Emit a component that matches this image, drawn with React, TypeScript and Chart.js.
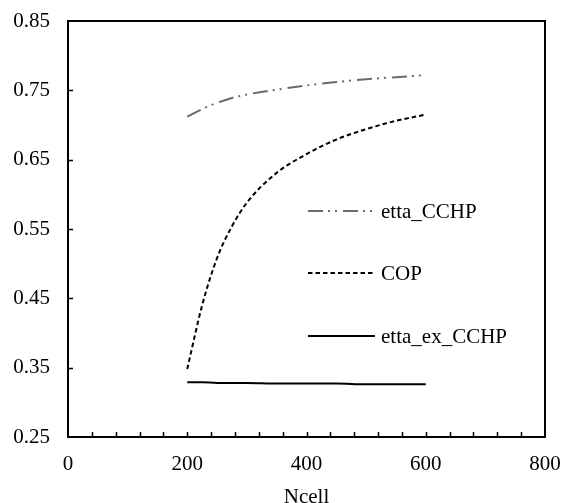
import React, { useEffect, useRef } from "react";
import { Chart, registerables } from "chart.js";

Chart.register(...registerables);

const ncell = [200, 225, 250, 275, 300, 350, 400, 450, 500, 550, 600];
const ettaCCHP = [0.712, 0.723, 0.732, 0.739, 0.744, 0.751, 0.757, 0.762, 0.766, 0.769, 0.772];
const cop = [0.348, 0.44, 0.508, 0.554, 0.588, 0.631, 0.658, 0.679, 0.694, 0.706, 0.715];
const ettaExCCHP = [0.329, 0.329, 0.328, 0.328, 0.328, 0.327, 0.327, 0.327, 0.326, 0.326, 0.326];

const seriesNames = ["etta_CCHP", "COP", "etta_ex_CCHP"];
const xMin = 0, xMax = 800, xMinorStep = 40, xLabelStep = 200;
const yMin = 0.25, yMax = 0.85, yStep = 0.1;

const FONT = "'Liberation Serif', 'Times New Roman', serif";
const FS = 21;

const framePlugin = {
  id: "frame",
  afterDatasetsDraw(chart: any) {
    const { ctx, chartArea: a, scales } = chart;
    ctx.save();
    ctx.strokeStyle = "#000";
    ctx.lineWidth = 2;
    ctx.strokeRect(a.left, a.top, a.right - a.left, a.bottom - a.top);
    ctx.lineWidth = 1.5;
    ctx.beginPath();
    for (let v = xMin + xMinorStep; v < xMax; v += xMinorStep) {
      const px = Math.round(scales.x.getPixelForValue(v)) + 0.5;
      ctx.moveTo(px, a.bottom);
      ctx.lineTo(px, a.bottom - 5);
    }
    for (let v = yMin + yStep; v < yMax - 1e-9; v += yStep) {
      const py = Math.round(scales.y.getPixelForValue(v)) + 0.5;
      ctx.moveTo(a.left, py);
      ctx.lineTo(a.left + 5, py);
    }
    ctx.stroke();

    // legend
    const rows = [211, 273, 336];
    const styles = [
      { color: "#6a6a6a", dash: [15, 5, 2, 5, 2, 6] },
      { color: "#000", dash: [4.5, 3] },
      { color: "#000", dash: [] },
    ];
    ctx.font = FS + "px " + FONT;
    ctx.textBaseline = "middle";
    ctx.fillStyle = "#000";
    rows.forEach((y, i) => {
      ctx.beginPath();
      ctx.strokeStyle = styles[i].color;
      ctx.lineWidth = 2;
      ctx.setLineDash(styles[i].dash);
      ctx.moveTo(308, y);
      ctx.lineTo(375, y);
      ctx.stroke();
      ctx.setLineDash([]);
      ctx.fillText(seriesNames[i], 381, y + 1);
    });
    ctx.restore();
  },
};

export default function App() {
  const ref = useRef<HTMLCanvasElement>(null);
  useEffect(() => {
    if (!ref.current) return;
    const mk = (arr: number[]) => ncell.map((x, i) => ({ x, y: arr[i] }));
    const chart = new Chart(ref.current, {
      type: "line",
      data: {
        datasets: [
          {
            label: seriesNames[0],
            data: mk(ettaCCHP),
            borderColor: "#6a6a6a",
            borderWidth: 2,
            borderDash: [15, 5, 2, 5, 2, 6],
            pointRadius: 0,
            cubicInterpolationMode: "monotone",
          },
          {
            label: seriesNames[1],
            data: mk(cop),
            borderColor: "#000",
            borderWidth: 2,
            borderDash: [4.5, 3],
            pointRadius: 0,
            cubicInterpolationMode: "monotone",
          },
          {
            label: seriesNames[2],
            data: mk(ettaExCCHP),
            borderColor: "#000",
            borderWidth: 2,
            pointRadius: 0,
            cubicInterpolationMode: "monotone",
          },
        ],
      },
      options: {
        animation: false,
        responsive: false,
        maintainAspectRatio: false,
        layout: { padding: { top: 21, right: 16, left: 0, bottom: 0 } },
        plugins: { legend: { display: false }, tooltip: { enabled: false } },
        scales: {
          x: {
            type: "linear",
            min: xMin,
            max: xMax,
            grid: { display: false },
            border: { display: false },
            afterFit: (s: any) => {
              s.height = 66;
              s.paddingLeft = 0;
              s.paddingRight = 0;
            },
            ticks: {
              stepSize: xLabelStep,
              autoSkip: false,
              maxRotation: 0,
              color: "#000",
              padding: 7,
              font: { family: FONT, size: FS },
            },
            title: {
              display: true,
              text: "Ncell",
              color: "#000",
              padding: { top: 0, bottom: -5 },
              font: { family: FONT, size: FS, lineHeight: 1 },
            },
          },
          y: {
            type: "linear",
            min: yMin,
            max: yMax,
            grid: { display: false },
            border: { display: false },
            afterFit: (s: any) => {
              s.width = 68;
              s.paddingTop = 0;
              s.paddingBottom = 0;
            },
            afterBuildTicks: (s: any) => {
              const t = [];
              for (let v = yMin; v <= yMax + 1e-9; v += yStep) t.push({ value: +v.toFixed(2) });
              s.ticks = t;
            },
            ticks: {
              color: "#000",
              padding: 10,
              font: { family: FONT, size: FS },
              callback: (v: any) => Number(v).toFixed(2),
            },
          },
        },
      },
      plugins: [framePlugin],
    });
    return () => chart.destroy();
  }, []);
  return (
    <div style={{ position: "fixed", left: 0, top: 0, width: 561, height: 503, background: "#fff" }}>
      <canvas ref={ref} width={561} height={503} style={{ display: "block" }} />
    </div>
  );
}
